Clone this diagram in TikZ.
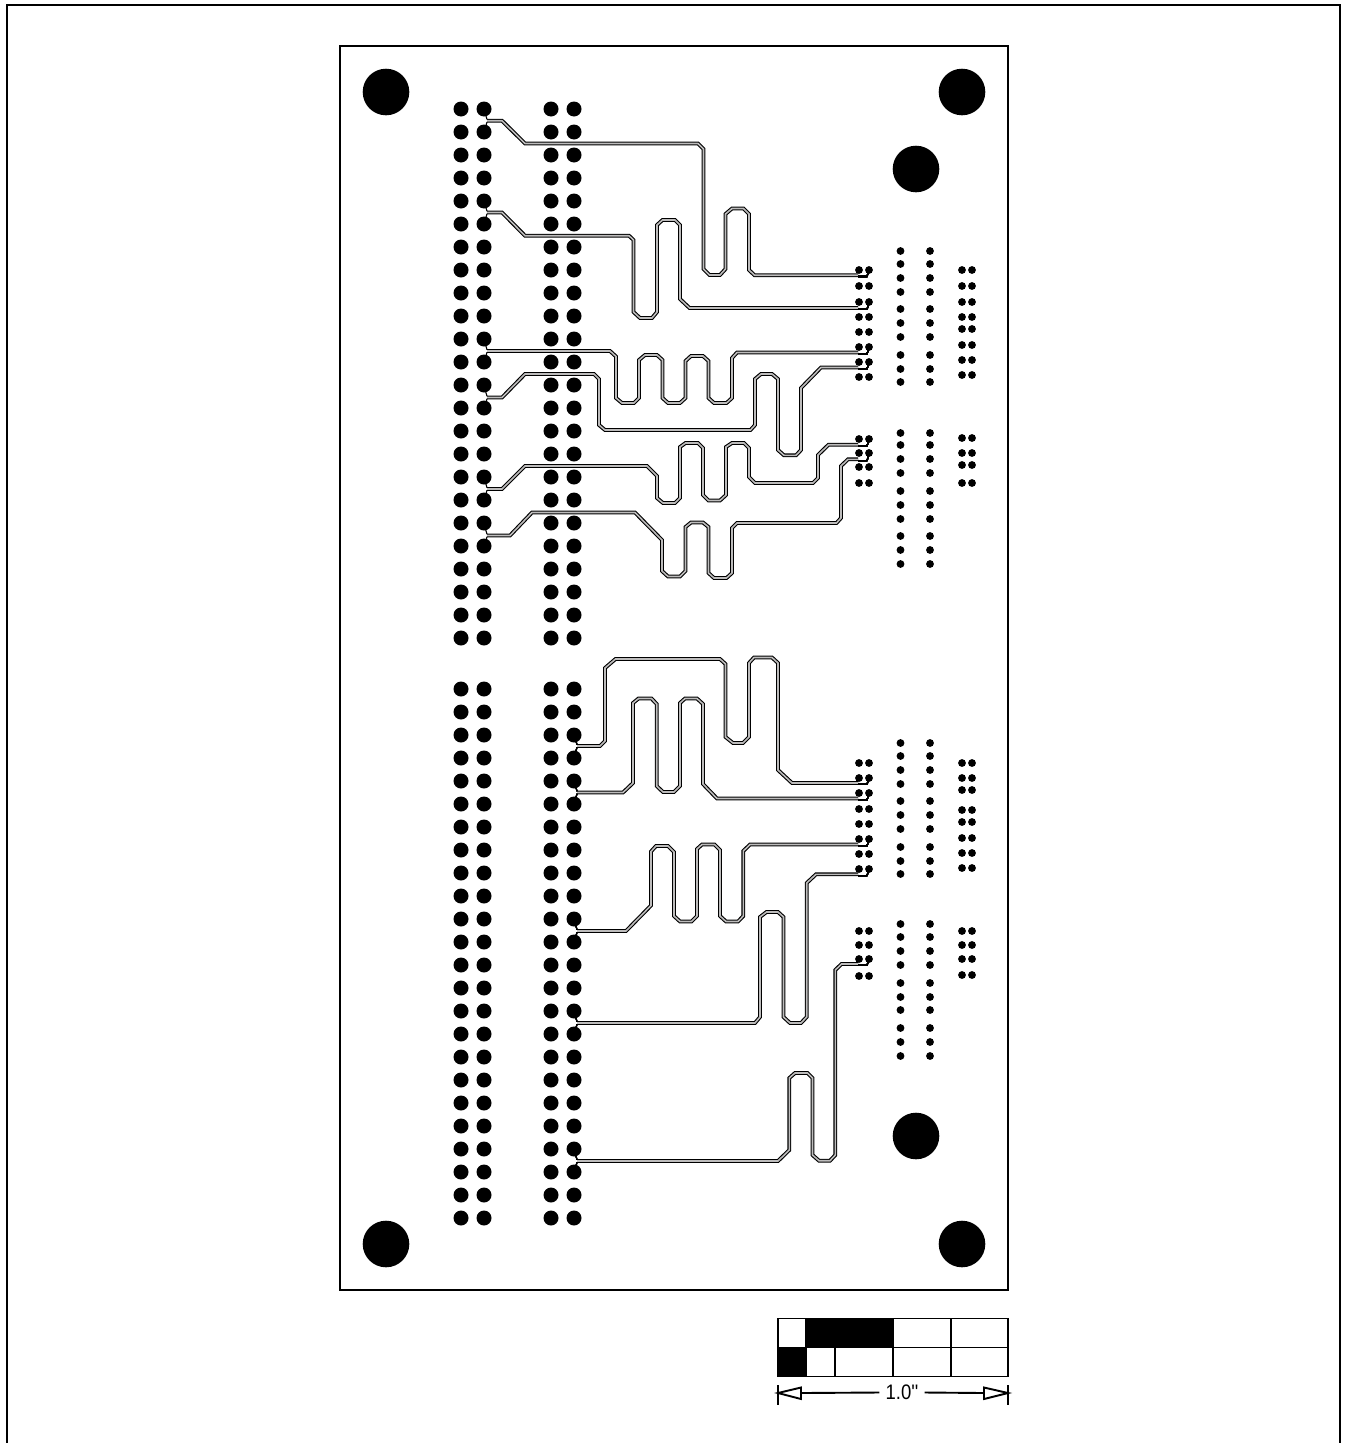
\documentclass[tikz,border=0pt]{standalone}
\usepackage{fontspec}
\newfontfamily\barfont[FakeStretch=0.88]{Liberation Sans}
\definecolor{ink}{rgb}{0.00,0.00,0.00}
\definecolor{trackgap}{cmyk}{0.00,0.00,0.00,0.30}
\usepackage{tikz}
\tikzstyle{base}=[x=1pt, y=-1pt, line join=miter]
\tikzstyle{outline}=[ink, line width=2.4pt]
\tikzstyle{scaleline}=[ink, line width=1.9pt]
\tikzstyle{track}=[ink, line width=1.1pt, double=trackgap, double distance=1.6pt]
\tikzstyle{stub}=[ink, line width=1.1pt]
\newcommand*{\widepad}[2]{\fill [ink] (#1,#2) circle (7.5);}
\newcommand*{\finepad}[2]{\fill [ink] (#1,#2) circle (3.9);}
\newcommand*{\tracktail}[2]{\draw [stub] (#1,#2-11.5) -- (#1+3,#2-1.3);
        \draw [stub] (#1,#2+11.5) -- (#1+3,#2+1.3);}
\newcommand*{\trackhead}[1]{\draw [stub] (858,#1+1.3) -- (867,#1+1.3) -- (869,#1-5);}

\begin{document}
\begin{tikzpicture}[base]
    \useasboundingbox (0,0) rectangle (1345,1443);
        \draw [outline] (7,1443) -- (7,5) -- (1340,5) -- (1340,1443);
        \draw [outline] (340,46) rectangle (1008,1290);
        \foreach \x/\y in {386/92, 962/92, 916/169, 916/1136, 386/1244, 962/1244}
            \fill [ink] (\x,\y) circle (23.3);
        % connector strips
        \foreach \x in {461,484,551,574}
            \foreach \k in {0,...,23} {
                \widepad{\x}{109+23*\k}
                \widepad{\x}{689+23*\k}
            }
        % small pad pairs
        \foreach \y in {270,286,302,317,332,347,362,377,439,453,467,483,763,778,793,809,824,839,854,869,931,945,959,976} {
            \finepad{859}{\y}
            \finepad{869}{\y}
        }
        \foreach \y in {270,286,302,317,329,345,360,375,438,453,465,483,763,778,790,810,822,838,853,868,931,945,959,975} {
            \finepad{962}{\y}
            \finepad{972}{\y}
        }
        \foreach \y in {251,264,278,292,309,323,337,355,369,382,433,445,459,473,491,505,519,536,550,564,743,756,770,784,801,815,829,847,861,874,924,937,951,965,983,997,1010,1028,1042,1056} {
            \finepad{900.5}{\y}
            \finepad{930}{\y}
        }
        % upper tracks
        \draw [track] (487,120.7) -- (502,120.7) -- (525,143.5) -- (698,143.5) -- (703.5,149) -- (703.5,269) -- (709.5,275) -- (720,275) -- (725.5,269) -- (725.5,214) -- (732,208.5) -- (743.5,208.5) -- (749,214) -- (749,270) -- (754.5,275.2) -- (858,275.2);
        \draw [track] (487,212.5) -- (502,212.5) -- (525,235.7) -- (629,235.7) -- (633.5,240) -- (633.5,312) -- (640,318) -- (652,318) -- (657,312) -- (657,225) -- (662.5,220) -- (675,220) -- (680,225) -- (680,299) -- (689.5,308) -- (858,308);
        \draw [track] (487,351) -- (610,351) -- (616,356.5) -- (616,398) -- (622,403) -- (634,403) -- (639,398) -- (639,360) -- (645,355) -- (657,355) -- (662.5,360) -- (662.5,398) -- (668,403) -- (680,403) -- (685.5,398) -- (685.5,361) -- (691,356) -- (703,356) -- (708.5,361) -- (708.5,398) -- (714,403) -- (726.5,403) -- (732,398) -- (732,358) -- (737,352.5) -- (858,352.5);
        \draw [track] (487,397.5) -- (502,397.5) -- (525,374) -- (594,374) -- (599,379) -- (599,425) -- (605,430) -- (750.5,430) -- (755,425) -- (755,379) -- (761,374) -- (772,374) -- (778,379) -- (778,450) -- (784,455.3) -- (796,455.3) -- (801,450) -- (801,388) -- (821,367.5) -- (858,367.5);
        \draw [track] (487,489) -- (502,489) -- (525,466) -- (647,466) -- (657,476) -- (657,498) -- (663,503) -- (675,503) -- (680,498) -- (680,447) -- (685.5,443) -- (698,443) -- (703,448) -- (703,495) -- (708.5,500.5) -- (720,500.5) -- (726,495) -- (726,447) -- (732,443) -- (744,443) -- (749,448) -- (749,477) -- (755,483) -- (813,483) -- (818,478) -- (818,455) -- (828.5,444.7) -- (858,444.7);
        \draw [track] (487,535.5) -- (510,535.5) -- (532,512.5) -- (635,512.5) -- (662,540) -- (662,571) -- (668,576.5) -- (680,576.5) -- (685.5,571) -- (685.5,527) -- (691,522.5) -- (703,522.5) -- (708.5,527) -- (708.5,573) -- (714,578) -- (726.5,578) -- (732,573) -- (732,528) -- (737,523) -- (836.5,523) -- (841,518) -- (841,466) -- (848,459.3) -- (858,459.3);
        % lower tracks
        \draw [track] (577,746) -- (600,746) -- (605,741) -- (605,668) -- (615.5,659) -- (720,659) -- (725.5,664) -- (725.5,737) -- (733,743) -- (743,743) -- (749,737) -- (749,663) -- (754,657.5) -- (772,657.5) -- (778,663) -- (778,770) -- (792,783) -- (858,783);
        \draw [track] (577,792.5) -- (623,792.5) -- (633,783) -- (633,703) -- (638.5,698.5) -- (651.5,698.5) -- (656.7,704) -- (656.7,786) -- (663,792) -- (674,792) -- (680,786) -- (680,703) -- (685,698.5) -- (697,698.5) -- (703,704) -- (703,784) -- (717,798.5) -- (858,798.5);
        \draw [track] (577,931) -- (626,931) -- (651,905.5) -- (651,851.5) -- (656,846) -- (668,846) -- (674,852) -- (674,916) -- (680,921.5) -- (691.5,921.5) -- (697,916) -- (697,849) -- (702,844.5) -- (714.5,844.5) -- (720,850) -- (720,916) -- (726,921.5) -- (738,921.5) -- (743.3,916) -- (743.3,851) -- (750,844.5) -- (858,844.5);
        \draw [track] (577,1023) -- (755,1023) -- (760,1017) -- (760,917) -- (766.5,912) -- (778,912) -- (783.5,917) -- (783.5,1017) -- (790,1023) -- (801,1023) -- (806.7,1017) -- (806.7,883) -- (816,874.3) -- (858,874.3);
        \draw [track] (577,1161) -- (778,1161) -- (789.3,1150) -- (789.3,1078) -- (795,1073) -- (807.5,1073) -- (812.5,1078) -- (812.5,1155) -- (819,1160.7) -- (830,1160.7) -- (835.3,1155) -- (835.3,970) -- (841.5,964) -- (858,964);
        % track ends at the pads
        \foreach \y in {120.7,212.5,351,397.5,489,535.5}
            \tracktail{484}{\y}
        \foreach \y in {746,792.5,931,1023,1161}
            \tracktail{574}{\y}
        \foreach \y in {275.2,308,352.5,367.5,444.7,459.3,783,798.5,844.5,874.3,964}
            \trackhead{\y}
        % scale bar
        \fill [ink] (806,1318) rectangle (893,1347.5);
        \fill [ink] (778,1347.5) rectangle (806,1376.5);
        \draw [scaleline] (778,1318.5) rectangle (1008,1376.5);
        \draw [scaleline] (778,1347.5) -- (1008,1347.5);
        \foreach \x in {806,893,951}
            \draw [scaleline] (\x,1318.5) -- (\x,1376.5);
        \draw [scaleline] (835,1347.5) -- (835,1376.5);
        \node (barlabel) [ink, inner xsep=6pt, inner ysep=0pt] at (902,1392.5) {\barfont\fontsize{21}{21}\selectfont 1.0''};
        \coordinate (tipleft) at (778,1393);
        \coordinate (tipright) at (1008,1393);
        \coordinate (baseleft) at (801,1393);
        \coordinate (baseright) at (984,1393);
        \draw [scaleline] (tipleft) -- (801,1387.5) -- (801,1399) -- cycle;
        \draw [scaleline] (tipright) -- (984,1387.5) -- (984,1399) -- cycle;
        \draw [scaleline] (baseleft) -- (barlabel.west);
        \draw [scaleline] (barlabel.east) -- (baseright);
        \draw [scaleline] (778,1385) -- (778,1405);
        \draw [scaleline] (1008,1385) -- (1008,1405);
    \end{tikzpicture}
\end{document}
